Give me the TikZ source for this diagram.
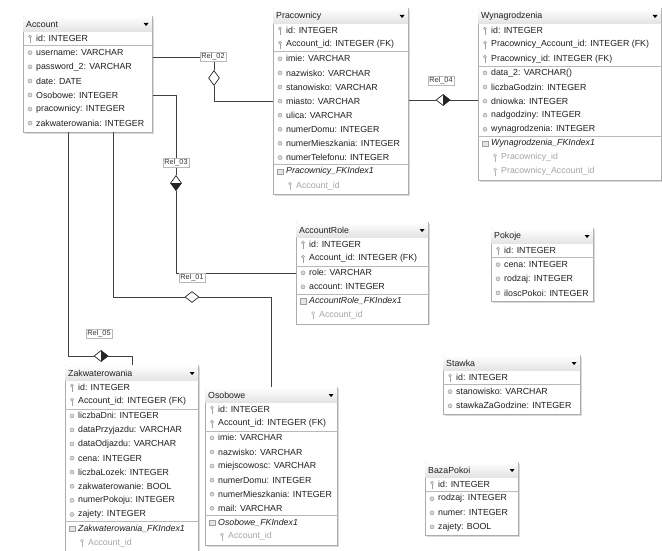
\documentclass[tikz,border=0pt]{standalone}
\usepackage{fontspec}
\setmainfont{Liberation Sans}
\usetikzlibrary{shapes.geometric,shadows}

\tikzset{
  encja/.style={draw=gray!65, fill=white, anchor=north west, inner sep=0pt, line width=0.6pt,
    drop shadow={shadow xshift=1.5pt, shadow yshift=-1.5pt, opacity=0.3}},
  pole/.style={anchor=west, inner sep=0pt, text=black!88, font=\fontsize{8.8}{10}\selectfont},
  ikona/.style={draw=gray!75, line width=0.5pt},
  podzial/.style={draw=gray!55, line width=0.5pt},
  relacja/.style={draw=gray!55, fill=white, inner sep=1.2pt, text=black!80, font=\fontsize{7.3}{8}\selectfont},
  linia/.style={draw=black!75, line width=0.6pt},
  romb/.style={diamond, draw=black!85, fill=white, inner sep=0pt, line width=0.7pt, minimum width=11pt, minimum height=15pt},
  rombpoz/.style={romb, minimum width=14pt, minimum height=11pt},
}

% tabela: nazwa, x, y, szerokosc, liczba wierszy, tytul
\newcommand{\encja}[6]{%
  \node[encja, minimum width=#4pt, minimum height=17pt+14.1pt*#5] (#1) at (#2,#3) {};
  \shade[top color=white, bottom color=gray!22] ([shift={(.4pt,-.4pt)}]#1.north west) rectangle ([shift={(-.4pt,-15.5pt)}]#1.north east);
  \node[pole] (#1-0) at ([shift={(3pt,-8.5pt)}]#1.north west) {#6};
  \fill ([shift={(-9pt,-7pt)}]#1.north east) -- ++(5pt,0) -- ++(-2.5pt,-3pt) -- cycle;
}
\newcommand{\wiersz}[3]{\node[pole] (#1-#2) at ([shift={(13pt,-8.5pt-14.1pt*#2)}]#1.north west) {#3};}
\newcommand{\klucz}[3]{\wiersz{#1}{#2}{#3}%
  \draw[ikona, fill=gray!25] ([shift={(-6pt,2pt)}]#1-#2.west) circle (1.5pt);
  \draw[ikona] ([shift={(-6pt,0.5pt)}]#1-#2.west) -- ++(0,-4pt) -- ++(1.3pt,0);}
\newcommand{\atrybut}[3]{\wiersz{#1}{#2}{#3}%
  \draw[ikona, fill=gray!30] ([xshift=-6pt]#1-#2.west) circle (2pt);}
\newcommand{\indeks}[3]{\node[pole, font=\fontsize{8.8}{10}\selectfont\itshape] (#1-#2) at ([shift={(13pt,-8.5pt-14.1pt*#2)}]#1.north west) {#3};
  \draw[ikona, fill=gray!20] ([shift={(-9pt,-3pt)}]#1-#2.west) rectangle ++(6pt,5.5pt);}
\newcommand{\ikol}[3]{\node[pole, text=gray!70] (#1-#2) at ([shift={(23pt,-8.5pt-14.1pt*#2)}]#1.north west) {#3};
  \draw[ikona, gray!60, fill=gray!15] ([shift={(-6pt,2pt)}]#1-#2.west) circle (1.5pt);
  \draw[ikona, gray!60] ([shift={(-6pt,0.5pt)}]#1-#2.west) -- ++(0,-4pt) -- ++(1.3pt,0);}
\newcommand{\kreska}[2]{\draw[podzial] ([yshift=-15.55pt-14.1pt*#2]#1.north west) -- ([yshift=-15.55pt-14.1pt*#2]#1.north east);}

\begin{document}
\begin{tikzpicture}[x=1pt,y=-1pt]
  \useasboundingbox (0,0) rectangle (662,551);
  % Account
  \encja{acc}{23}{16}{129}{7}{Account}
  \klucz{acc}{1}{id: INTEGER}
  \kreska{acc}{1}
  \foreach \t [count=\i from 2] in {username: VARCHAR, password\_2: VARCHAR, date: DATE,
    Osobowe: INTEGER, pracownicy: INTEGER, zakwaterowania: INTEGER}
    {\atrybut{acc}{\i}{\t}}
  % Pracownicy
  \encja{prac}{273}{8}{135}{12}{Pracownicy}
  \klucz{prac}{1}{id: INTEGER}
  \klucz{prac}{2}{Account\_id: INTEGER (FK)}
  \kreska{prac}{2}
  \foreach \t [count=\i from 3] in {imie: VARCHAR, nazwisko: VARCHAR, stanowisko: VARCHAR,
    miasto: VARCHAR, ulica: VARCHAR, numerDomu: INTEGER, numerMieszkania: INTEGER, numerTelefonu: INTEGER}
    {\atrybut{prac}{\i}{\t}}
  \kreska{prac}{10}
  \indeks{prac}{11}{Pracownicy\_FKIndex1}
  \ikol{prac}{12}{Account\_id}
  % Wynagrodzenia
  \encja{wyn}{478}{8}{183}{11}{Wynagrodzenia}
  \klucz{wyn}{1}{id: INTEGER}
  \klucz{wyn}{2}{Pracownicy\_Account\_id: INTEGER (FK)}
  \klucz{wyn}{3}{Pracownicy\_id: INTEGER (FK)}
  \kreska{wyn}{3}
  \foreach \t [count=\i from 4] in {data\_2: VARCHAR(), liczbaGodzin: INTEGER, dniowka: INTEGER,
    nadgodziny: INTEGER, wynagrodzenia: INTEGER}
    {\atrybut{wyn}{\i}{\t}}
  \kreska{wyn}{8}
  \indeks{wyn}{9}{Wynagrodzenia\_FKIndex1}
  \ikol{wyn}{10}{Pracownicy\_id}
  \ikol{wyn}{11}{Pracownicy\_Account\_id}
  % AccountRole
  \encja{arole}{296}{222}{132}{6}{AccountRole}
  \klucz{arole}{1}{id: INTEGER}
  \klucz{arole}{2}{Account\_id: INTEGER (FK)}
  \kreska{arole}{2}
  \atrybut{arole}{3}{role: VARCHAR}
  \atrybut{arole}{4}{account: INTEGER}
  \kreska{arole}{4}
  \indeks{arole}{5}{AccountRole\_FKIndex1}
  \ikol{arole}{6}{Account\_id}
  % Pokoje
  \encja{pok}{491}{228}{102}{4}{Pokoje}
  \klucz{pok}{1}{id: INTEGER}
  \kreska{pok}{1}
  \foreach \t [count=\i from 2] in {cena: INTEGER, rodzaj: INTEGER, iloscPokoi: INTEGER}
    {\atrybut{pok}{\i}{\t}}
  % Stawka
  \encja{staw}{443}{355}{137}{3}{Stawka}
  \klucz{staw}{1}{id: INTEGER}
  \kreska{staw}{1}
  \atrybut{staw}{2}{stanowisko: VARCHAR}
  \atrybut{staw}{3}{stawkaZaGodzine: INTEGER}
  % BazaPokoi
  \encja{baza}{425}{462}{93}{4}{BazaPokoi}
  \klucz{baza}{1}{id: INTEGER}
  \kreska{baza}{1}
  \foreach \t [count=\i from 2] in {rodzaj: INTEGER, numer: INTEGER, zajety: BOOL}
    {\atrybut{baza}{\i}{\t}}
  % Osobowe
  \encja{osob}{205}{387}{132}{10}{Osobowe}
  \klucz{osob}{1}{id: INTEGER}
  \klucz{osob}{2}{Account\_id: INTEGER (FK)}
  \kreska{osob}{2}
  \foreach \t [count=\i from 3] in {imie: VARCHAR, nazwisko: VARCHAR, miejscowosc: VARCHAR,
    numerDomu: INTEGER, numerMieszkania: INTEGER, mail: VARCHAR}
    {\atrybut{osob}{\i}{\t}}
  \kreska{osob}{8}
  \indeks{osob}{9}{Osobowe\_FKIndex1}
  \ikol{osob}{10}{Account\_id}
  % Zakwaterowania
  \encja{zakw}{65}{365}{133}{12}{Zakwaterowania}
  \klucz{zakw}{1}{id: INTEGER}
  \klucz{zakw}{2}{Account\_id: INTEGER (FK)}
  \kreska{zakw}{2}
  \foreach \t [count=\i from 3] in {liczbaDni: INTEGER, dataPrzyjazdu: VARCHAR, dataOdjazdu: VARCHAR,
    cena: INTEGER, liczbaLozek: INTEGER, zakwaterowanie: BOOL, numerPokoju: INTEGER, zajety: INTEGER}
    {\atrybut{zakw}{\i}{\t}}
  \kreska{zakw}{10}
  \indeks{zakw}{11}{Zakwaterowania\_FKIndex1}
  \ikol{zakw}{12}{Account\_id}

  % relacje
  \node[relacja] (rel02) at (213,57) {Rel\_02};
  \node[romb] (d02) at (214,78) {};
  \draw[linia] (acc.east |- rel02.west) -- (rel02.west);
  \draw[linia] (rel02.south -| d02.north) -- (d02.north);
  \draw[linia] (d02.south) |- (prac.west |- prac-6);

  \node[relacja] (rel04) at (441,81) {Rel\_04};
  \node[rombpoz] (d04) at (443,100) {};
  \fill[black!85] (d04.north) -- (d04.east) -- (d04.south) -- cycle;
  \draw[linia] (prac.east |- d04) -- (d04.west) (d04.east) -- (wyn.west |- d04);

  \node[relacja] (rel03) at (176,163) {Rel\_03};
  \node[romb] (d03) at (176,183) {};
  \fill[black!85] (d03.west) -- (d03.south) -- (d03.east) -- cycle;
  \draw[linia] (acc.east |- acc-5) -| (rel03.north);
  \draw[linia] (rel03.south) -- (d03.north);
  \draw[linia] (d03.south) |- (arole.west |- arole-3);

  \coordinate (p01) at (113,0);
  \node[relacja] (rel01) at (192,278) {Rel\_01};
  \node[rombpoz] (d01) at (192,297) {};
  \draw[linia] (acc.south -| p01) |- (d01.west);
  \draw[linia] (d01.east) -| (osob.north);

  \coordinate (p05) at (68,0);
  \node[relacja] (rel05) at (99,334) {Rel\_05};
  \node[rombpoz] (d05) at (101,356) {};
  \fill[black!85] (d05.north) -- (d05.east) -- (d05.south) -- cycle;
  \draw[linia] (acc.south -| p05) |- (d05.west);
  \draw[linia] (d05.east) -| (zakw.north);
\end{tikzpicture}
\end{document}
